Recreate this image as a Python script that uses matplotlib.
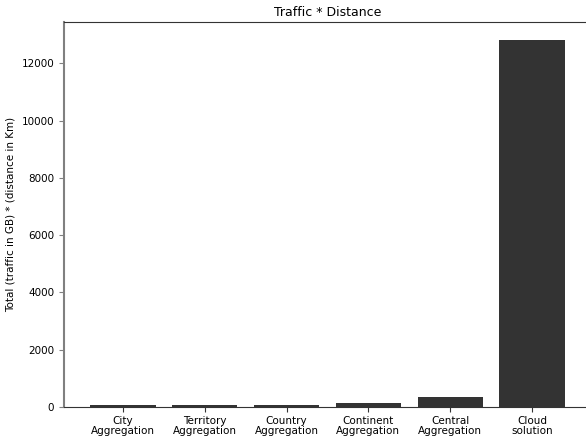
import matplotlib.pyplot as plt

CATEGORIES = [
    "City\nAggregation",
    "Territory\nAggregation",
    "Country\nAggregation",
    "Continent\nAggregation",
    "Central\nAggregation",
    "Cloud\nsolution",
]
VALUES = [60, 80, 80, 130, 350, 12800]


def main() -> None:
    fig = plt.figure(figsize=(5.86, 4.41), dpi=100)
    ax = fig.add_axes([64 / 586, 1 - 407 / 441, (591 - 64) / 586, (407 - 22) / 441])

    x = list(range(len(CATEGORIES)))
    ax.bar(x, VALUES, width=0.8, color="#333333")

    ax.set_xticks(x)
    ax.set_xticklabels(CATEGORIES, fontsize=7.5, linespacing=0.95)
    ax.set_xlim(-0.72, 5.72)
    ax.set_ylim(0, 13440)
    ax.set_yticks([0, 2000, 4000, 6000, 8000, 10000, 12000])
    ax.tick_params(axis="y", labelsize=7.5, color="#808080")
    ax.tick_params(axis="x", color="#333333", pad=3)
    ax.set_ylabel("Total (traffic in GB) * (distance in Km)", fontsize=7.5)
    ax.set_title("Traffic * Distance", fontsize=9, pad=4)

    ax.spines["left"].set_color("#808080")
    ax.spines["left"].set_linewidth(1.5)
    ax.spines["top"].set_color("#333333")
    ax.spines["bottom"].set_color("#333333")

    fig.savefig("out.png", dpi=100)
    plt.close(fig)


if __name__ == "__main__":
    main()
